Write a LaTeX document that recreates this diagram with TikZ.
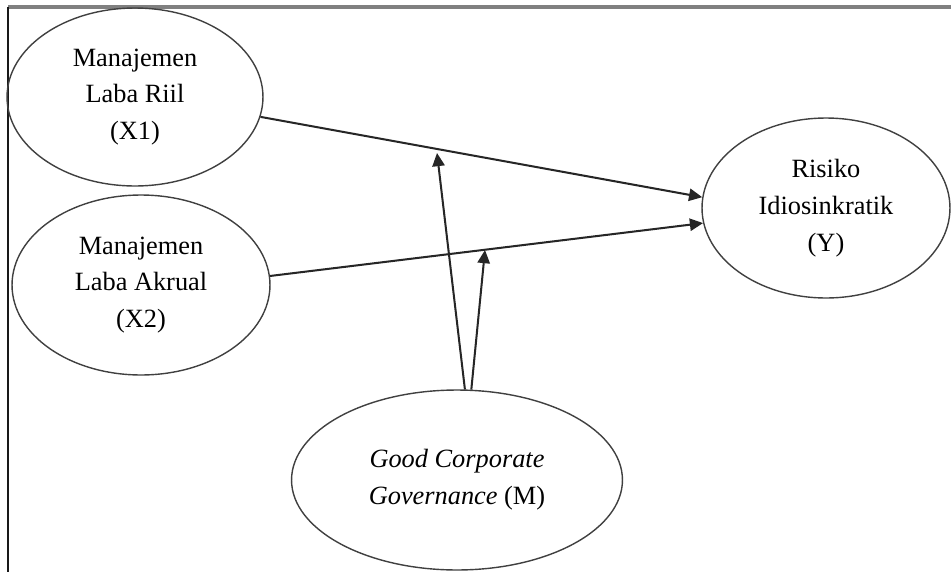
\documentclass[tikz,border=0pt]{standalone}
\usepackage{fontspec}
\setmainfont{Liberation Serif}
\usetikzlibrary{shapes.geometric,arrows.meta}

\begin{document}
\begin{tikzpicture}[x=0.02cm,y=-0.02cm,
        var/.style={ellipse, draw=black!75, line width=0.8pt, inner sep=0pt, align=center,
            font=\fontsize{15}{21}\selectfont},
        path/.style={draw=black!85, line width=1.15pt, -{Triangle[length=7.5pt,width=7pt]}}]
        \useasboundingbox (0,0) rectangle (951,572);
        \draw[black!50, line width=1.8pt] (8,7) -- (951,7);
        \draw[black!90, line width=1.2pt] (8,7) -- (8,572);

        \node[var, minimum width=5.12cm, minimum height=3.56cm] (x1) at (135, 97) { Manajemen \\ Laba Riil \\ (X1) };
        \node[var, minimum width=5.16cm, minimum height=3.6cm] (x2) at (141, 285) { Manajemen \\ Laba Akrual \\ (X2) };
        \node[var, minimum width=4.96cm, minimum height=3.6cm] (yrisk) at (826, 208) { Risiko \\ Idiosinkratik \\ (Y) };
        \node[var, minimum width=6.62cm, minimum height=3.6cm] (gcg) at (457, 480) { \textit{Good Corporate} \\ \textit{Governance} (M) };

        \coordinate (m1) at (437, 153);
        \coordinate (m2) at (485, 250);

        \draw[path] (x1.-9) -- (yrisk.175);
        \draw[path] (x2.4) -- (yrisk.187);
        \draw[path] (gcg.85) -- (m1);
        \draw[path] (gcg.81) -- (m2);

    \end{tikzpicture}
\end{document}
